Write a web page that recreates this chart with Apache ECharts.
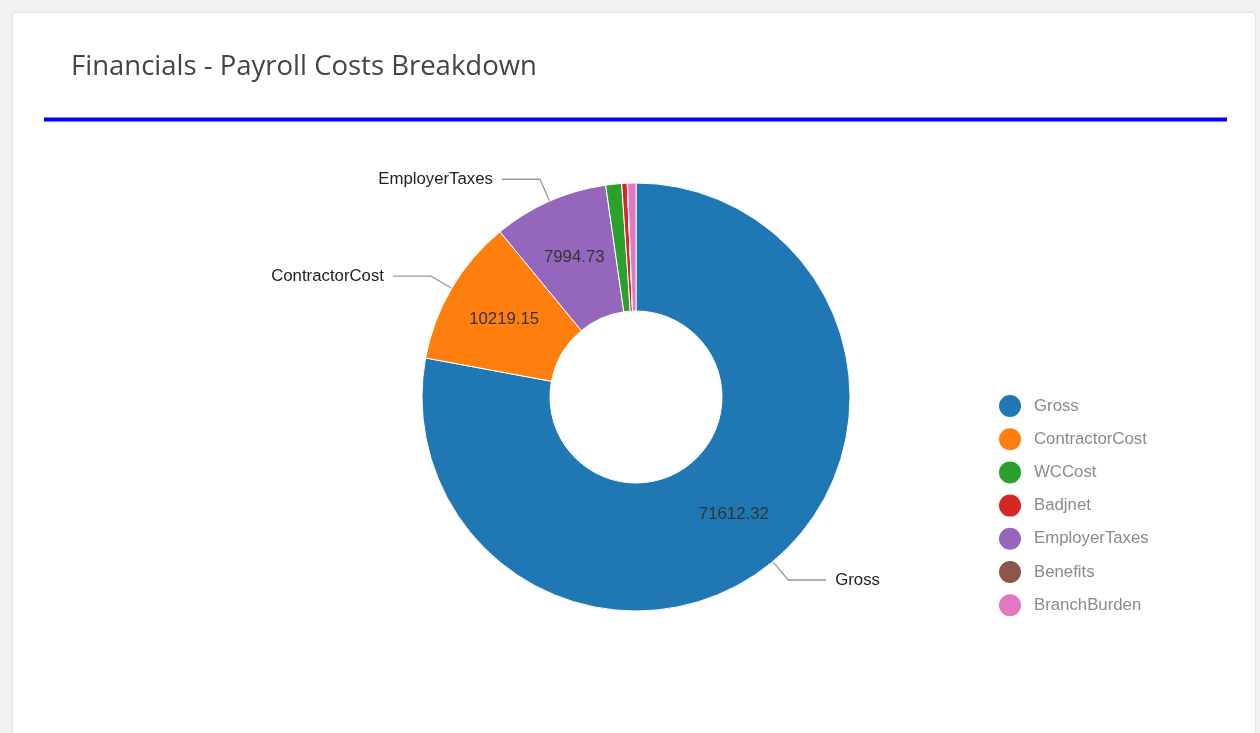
<!DOCTYPE html>
<html>
<head>
<meta charset="utf-8">
<title>Financials - Payroll Costs Breakdown</title>
<script src="https://cdn.jsdelivr.net/npm/echarts@6/dist/echarts.min.js"></script>
<style>
  html, body { margin: 0; padding: 0; background: #f1f1f1; }
  #card {
    position: absolute; left: 13px; top: 13px; width: 1242px; height: 740px;
    background: #fff; border-radius: 4px;
    box-shadow: 0 0 2px rgba(0,0,0,0.18);
  }
  #chart { position: absolute; left: 0; top: 0; width: 1260px; height: 733px; }
</style>
</head>
<body>
<div id="card"></div>
<div id="chart"></div>
<script>
// Slice order as drawn (clockwise from 12 o'clock)
const sliceNames  = ['Gross', 'ContractorCost', 'EmployerTaxes', 'WCCost', 'Badjnet', 'Benefits', 'BranchBurden'];
const sliceValues = [71612.32, 10219.15, 7994.73, 1100, 380, 20, 580];

// Legend order
const legendNames = ['Gross', 'ContractorCost', 'WCCost', 'Badjnet', 'EmployerTaxes', 'Benefits', 'BranchBurden'];

// Category colours keyed by name
const colorByName = {
  Gross: '#1f77b4',
  ContractorCost: '#ff7f0e',
  WCCost: '#2ca02c',
  Badjnet: '#d62728',
  EmployerTaxes: '#9467bd',
  Benefits: '#8c564b',
  BranchBurden: '#e377c2'
};

const total = sliceValues.reduce((a, b) => a + b, 0);
const labelThreshold = 0.05; // only slices above 5% get labels
const isBig = v => v / total > labelThreshold;

const FONT = 'Liberation Sans, Arial, sans-serif';

// sectors carrying the outside name labels
const outerData = sliceNames.map((n, i) => ({
  name: n,
  value: sliceValues[i],
  itemStyle: { color: colorByName[n] },
  label: { show: isBig(sliceValues[i]) },
  labelLine: { show: isBig(sliceValues[i]) }
}));

// transparent twin carrying the inside value labels
const innerData = sliceNames.map((n, i) => ({
  name: n,
  value: sliceValues[i],
  itemStyle: { color: 'rgba(0,0,0,0)', borderWidth: 0 },
  label: { show: isBig(sliceValues[i]) }
}));

const chart = echarts.init(document.getElementById('chart'));
chart.setOption({
  animation: false,
  title: {
    text: 'Financials - Payroll Costs Breakdown',
    left: 66, top: 48,
    textStyle: { fontFamily: 'Open Sans', fontSize: 27.5, fontWeight: 'normal', color: '#444' }
  },
  graphic: [{
    type: 'rect',
    shape: { x: 44, y: 117.5, width: 1183, height: 4 },
    style: { fill: '#0000ff' },
    silent: true
  }],
  legend: {
    orient: 'vertical',
    left: 992, top: 388,
    data: legendNames,
    icon: 'circle',
    itemWidth: 24, itemHeight: 24,
    itemGap: 7.2,
    selectedMode: false,
    textStyle: { fontFamily: FONT, fontSize: 16.8, color: '#8a8a8a', padding: [0, 0, 0, 7] }
  },
  series: [
    {
      type: 'pie',
      center: [636, 397],
      radius: [86, 214],
      startAngle: 90,
      clockwise: true,
      avoidLabelOverlap: false,
      itemStyle: { borderColor: '#fff', borderWidth: 1 },
      label: {
        position: 'outside',
        formatter: '{b}',
        fontFamily: FONT,
        fontSize: 16.8,
        color: '#222',
        distanceToLabelLine: 9
      },
      labelLine: { length: 24, length2: 38, lineStyle: { color: '#999', width: 1.3 } },
      emphasis: { disabled: true },
      data: outerData
    },
    {
      type: 'pie',
      center: [636, 397],
      radius: [86, 214],
      startAngle: 90,
      clockwise: true,
      silent: true,
      label: {
        position: 'inside',
        formatter: p => p.value.toFixed(2),
        fontFamily: FONT,
        fontSize: 16.8,
        color: '#333'
      },
      labelLine: { show: false },
      emphasis: { disabled: true },
      data: innerData
    }
  ]
});
</script>
</body>
</html>
